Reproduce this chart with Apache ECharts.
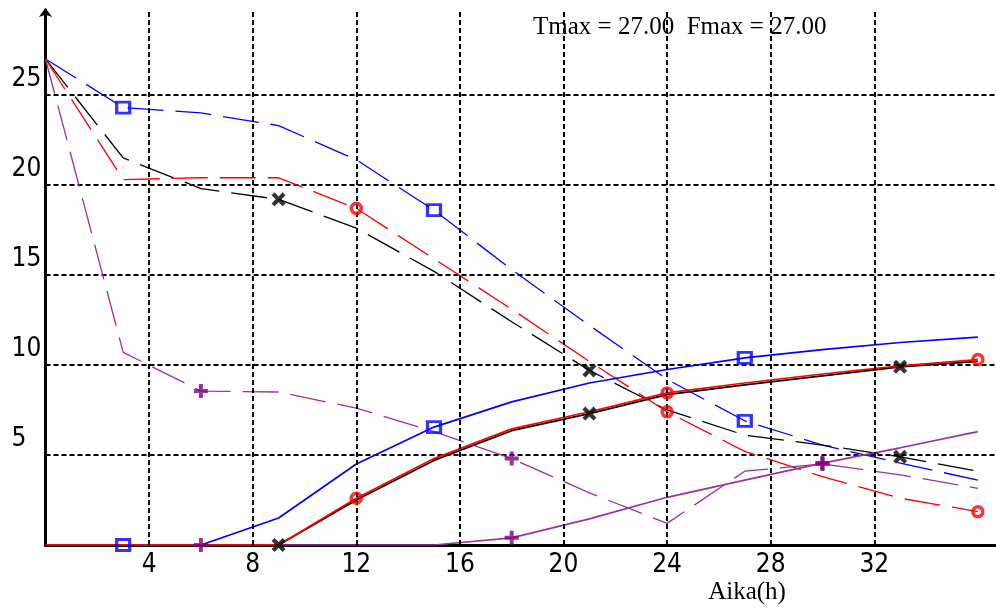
<!DOCTYPE html>
<html>
<head>
<meta charset="utf-8">
<script src="https://cdn.jsdelivr.net/npm/echarts@6/dist/echarts.min.js"></script>
<style>
html,body{margin:0;padding:0;background:#fff;}
#c{width:996px;height:610px;}
</style>
</head>
<body>
<div id="c"></div>
<script>
// ---- data ----
var hours = [0, 3, 6, 9, 12, 15, 18, 21, 24, 27, 30, 33, 36];
var blueFall   = [27, 24.3, 24.0, 23.3, 21.4, 18.6, 15.3, 12.2, 9.2, 6.9, 5.55, 4.55, 3.6];
var redFall    = [27, 20.3, 20.4, 20.4, 18.7, 15.9, 13.1, 10.2, 7.4, 5.2, 3.8, 2.6, 1.85];
var blackFall  = [27, 21.5, 19.8, 19.2, 17.6, 15.2, 12.4, 9.7, 7.5, 6.1, 5.55, 4.9, 4.1];
var purpleFall = [27, 10.7, 8.55, 8.5, 7.6, 6.3, 4.8, 2.9, 1.2, 4.1, 4.5, 3.9, 3.15];
var blueRise   = [0, 0, 0, 1.5, 4.5, 6.55, 7.95, 9.0, 9.75, 10.4, 10.85, 11.25, 11.55];
var redRise    = [0, 0, 0, 0, 2.6, 4.8, 6.45, 7.4, 8.45, 9.0, 9.5, 9.95, 10.3];
var blackRise  = [0, 0, 0, 0, 2.5, 4.7, 6.35, 7.3, 8.35, 8.9, 9.4, 9.9, 10.2];
var purpleRise = [0, 0, 0, 0, 0, 0, 0.4, 1.45, 2.65, 3.6, 4.55, 5.4, 6.3];
var blueMarks   = [3, 15, 27];
var purpleMarks = [6, 18, 30];
var blackMarks  = [9, 21, 33];
var redMarks    = [12, 24, 36];
var xTicks = [4, 8, 12, 16, 20, 24, 28, 32];
var yTicks = [5, 10, 15, 20, 25];
var titleText = 'Tmax = 27.00  Fmax = 27.00';
var xName = 'Aika(h)';

// ---- build ----
function pairs(arr) { return hours.map(function (h, i) { return [h, arr[i]]; }); }
function marks(hs, arrs) {
  var out = [];
  arrs.forEach(function (a) { hs.forEach(function (h) { out.push([h, a[hours.indexOf(h)]]); }); });
  return out;
}
var BLUE = '#0000ff', RED = '#ff0000', BLACK = '#000000', PURPLE = '#993399', PURPLE_M = '#800080';
var DASH = [36, 12];
var X_PATH = 'path://M0,2.5 L2.5,0 L6,3.5 L9.5,0 L12,2.5 L8.5,6 L12,9.5 L9.5,12 L6,8.5 L2.5,12 L0,9.5 L3.5,6 Z';
var PLUS_PATH = 'path://M4.3,0 H7.7 V4.3 H12 V7.7 H7.7 V12 H4.3 V7.7 H0 V4.3 H4.3 Z';
var LABEL_FONT = "'Liberation Sans Narrow','DejaVu Sans Condensed','Liberation Sans',sans-serif";
var SERIF = "'Liberation Serif','DejaVu Serif',serif";

function lineSeries(name, arr, color, dashed, width) {
  return {
    name: name, type: 'line', data: pairs(arr), symbol: 'none', silent: true,
    lineStyle: { color: color, width: width, type: dashed ? DASH : 'solid' },
    z: 3
  };
}

var series = [
  {
    name: 'grid', type: 'line', data: [], silent: true, z: 1,
    markLine: {
      silent: true, symbol: ['none', 'none'], label: { show: false },
      lineStyle: { color: '#000', width: 2, type: [5, 3] },
      emphasis: { disabled: true },
      data: xTicks.map(function (v) { return { xAxis: v }; })
    }
  },
  lineSeries('blueFall', blueFall, BLUE, true, 1.3),
  lineSeries('blackFall', blackFall, BLACK, true, 1.3),
  lineSeries('redFall', redFall, RED, true, 1.3),
  lineSeries('purpleFall', purpleFall, PURPLE, true, 1.3),
  lineSeries('blueRise', blueRise, BLUE, false, 1.7),
  lineSeries('blackRise', blackRise, BLACK, false, 1.7),
  lineSeries('purpleRise', purpleRise, PURPLE, false, 1.7),
  lineSeries('redRise', redRise, RED, false, 1.7),
  {
    type: 'scatter', silent: true, z: 5, symbol: 'rect', symbolSize: [13, 11],
    itemStyle: { color: 'rgba(255,255,255,0)', borderColor: BLUE, borderWidth: 3 },
    data: marks(blueMarks, [blueFall, blueRise])
  },
  {
    type: 'scatter', silent: true, z: 5, symbol: PLUS_PATH, symbolSize: 14,
    itemStyle: { color: PURPLE_M },
    data: marks(purpleMarks, [purpleFall, purpleRise])
  },
  {
    type: 'scatter', silent: true, z: 5, symbol: X_PATH, symbolSize: 14,
    itemStyle: { color: BLACK },
    data: marks(blackMarks, [blackFall, blackRise])
  },
  {
    type: 'scatter', silent: true, z: 5, symbol: 'circle', symbolSize: 10,
    itemStyle: { color: 'rgba(255,255,255,0)', borderColor: RED, borderWidth: 3.5 },
    data: marks(redMarks, [redFall, redRise])
  }
];

var chart = echarts.init(document.getElementById('c'), null, { renderer: 'canvas' });
chart.setOption({
  animation: false,
  backgroundColor: '#fff',
  title: {
    text: titleText, left: 528, top: 10,
    textStyle: { fontFamily: SERIF, fontSize: 25, fontWeight: 'normal', color: '#000' }
  },
  grid: { left: 45.5, right: 0, top: 10, bottom: 65, containLabel: false, outerBoundsMode: 'none' },
  xAxis: {
    type: 'value', min: 0, max: 36.7, interval: 4,
    name: xName, nameLocation: 'end', nameGap: -249, nameMoveOverlap: false,
    nameTextStyle: { fontFamily: SERIF, fontSize: 25, color: '#000', align: 'center', verticalAlign: 'top', padding: [35, 0, 0, 0] },
    axisLine: { show: true, onZero: false, lineStyle: { color: '#000', width: 3 } },
    axisTick: { show: false },
    splitLine: { show: false },
    axisLabel: {
      color: '#000', fontFamily: LABEL_FONT, fontSize: 26, margin: 7,
      showMinLabel: false, showMaxLabel: false,
      formatter: function (v) { return xTicks.indexOf(v) >= 0 ? String(v) : ''; }
    }
  },
  yAxis: {
    type: 'value', min: 0, max: 29.72, interval: 5,
    axisLine: { show: true, onZero: false, symbol: ['none', 'arrow'], symbolSize: [10, 9], symbolOffset: [0, 2], lineStyle: { color: '#000', width: 3 } },
    axisTick: { show: false },
    splitLine: { show: true, showMinLine: false, showMaxLine: false, lineStyle: { color: '#000', width: 2, type: [5, 3] } },
    axisLabel: {
      color: '#000', fontFamily: LABEL_FONT, fontSize: 26, margin: 34, align: 'left', verticalAlign: 'bottom',
      lineHeight: 32,
      showMinLabel: false, showMaxLabel: false,
      formatter: function (v) { return yTicks.indexOf(v) >= 0 ? String(v) : ''; }
    }
  },
  series: series
});
</script>
</body>
</html>
